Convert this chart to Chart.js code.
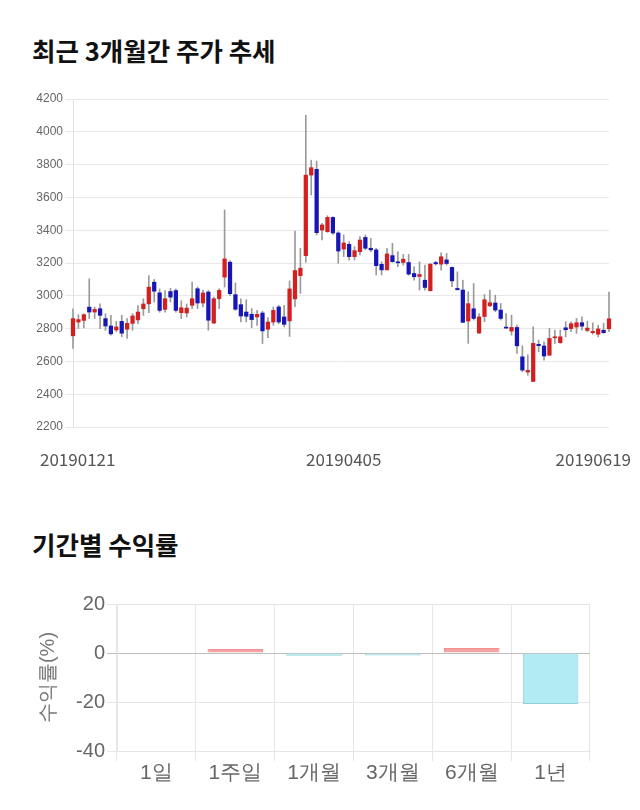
<!DOCTYPE html>
<html>
<head>
<meta charset="utf-8">
<script src="https://cdn.jsdelivr.net/npm/chart.js@4.4.1/dist/chart.umd.min.js"></script>
<style>
  body { margin: 0; background: #fff; width: 640px; height: 810px; position: relative; overflow: hidden;
         font-family: "Noto Sans CJK KR", sans-serif; }
  h2 { position: absolute; left: 32px; margin: 0; font-size: 25.5px; font-weight: 700; color: #111; line-height: 30px; }
  #t1 { top: 35px; }
  #t2 { top: 529px; }
  #w1 { position: absolute; left: 0; top: 80px; width: 640px; height: 400px; }
  #w2 { position: absolute; left: 0; top: 580px; width: 640px; height: 225px; }
</style>
</head>
<body>
<h2 id="t1">최근 3개월간 주가 추세</h2>
<div id="w1"><canvas id="candle"></canvas></div>
<h2 id="t2">기간별 수익률</h2>
<div id="w2"><canvas id="returns"></canvas></div>

<script>
// -----------------------------------------------------------------------
// data : daily candles 20190121 ~ 20190619
// -----------------------------------------------------------------------
var opens = [
    2756, 2840, 2850, 2931, 2901, 2921, 2861, 2816, 2792, 2844,
    2796, 2832, 2853, 2921, 2951, 3083, 3018, 2917, 3026, 3032,
    2897, 2895, 2942, 3043, 2956, 3023, 2834, 2982, 3114, 3205,
    3007, 2946, 2901, 2887, 2871, 2895, 2796, 2840, 2932, 2871,
    2847, 2981, 3123, 3245, 3736, 3771, 3401, 3391, 3478, 3383,
    3285, 3314, 3239, 3269, 3356, 3290, 3280, 3192, 3158, 3245,
    3207, 3203, 3203, 3136, 3118, 3095, 3031, 3203, 3193, 3219,
    3173, 3045, 3035, 2846, 2921, 2773, 2874, 2939, 2956, 2913,
    2807, 2785, 2807, 2628, 2535, 2478, 2704, 2694, 2638, 2744,
    2714, 2805, 2800, 2810, 2836, 2789, 2775, 2766, 2790, 2799
];
var highs = [
    2921, 2885, 2891, 3103, 2931, 2951, 2891, 2881, 2844, 2881,
    2861, 2891, 2941, 2982, 3123, 3100, 3042, 3032, 3046, 3042,
    2970, 2950, 3083, 3053, 3033, 3033, 2992, 3043, 3523, 3215,
    3078, 2982, 2976, 2922, 2911, 2907, 2867, 2932, 2942, 2942,
    3091, 3395, 3290, 4101, 3827, 3821, 3442, 3488, 3482, 3391,
    3371, 3330, 3300, 3361, 3371, 3350, 3290, 3208, 3290, 3320,
    3268, 3252, 3252, 3177, 3207, 3187, 3197, 3211, 3262, 3258,
    3177, 3146, 3095, 3024, 3075, 2892, 3008, 3035, 3004, 2953,
    2892, 2882, 2821, 2695, 2640, 2811, 2730, 2720, 2801, 2791,
    2791, 2842, 2842, 2862, 2872, 2845, 2835, 2821, 2832, 3022
];
var lows = [
    2679, 2800, 2804, 2861, 2861, 2800, 2790, 2760, 2780, 2750,
    2740, 2790, 2830, 2881, 2897, 2962, 2900, 2900, 2962, 2900,
    2862, 2870, 2922, 2922, 2932, 2790, 2830, 2922, 3053, 3003,
    2911, 2841, 2841, 2806, 2820, 2709, 2745, 2820, 2830, 2810,
    2752, 2934, 3015, 3204, 3614, 3371, 3340, 3387, 3375, 3198,
    3239, 3218, 3218, 3249, 3280, 3269, 3127, 3127, 3158, 3204,
    3177, 3187, 3126, 3095, 3035, 3035, 3029, 3187, 3156, 3187,
    3055, 3035, 2838, 2710, 2852, 2771, 2842, 2933, 2903, 2852,
    2801, 2760, 2649, 2537, 2515, 2476, 2659, 2608, 2635, 2710,
    2710, 2750, 2781, 2771, 2791, 2780, 2765, 2750, 2771, 2781
];
var closes = [
    2861, 2855, 2885, 2901, 2917, 2881, 2816, 2768, 2810, 2772,
    2832, 2877, 2901, 2950, 3053, 3028, 2911, 2982, 2992, 2911,
    2927, 2925, 2982, 2956, 3017, 2851, 2982, 3033, 3225, 3013,
    2918, 2877, 2875, 2855, 2887, 2786, 2840, 2911, 2840, 2826,
    3042, 3154, 3168, 3736, 3781, 3385, 3432, 3478, 3383, 3273,
    3322, 3239, 3275, 3340, 3290, 3280, 3184, 3158, 3255, 3208,
    3201, 3223, 3132, 3116, 3130, 3051, 3193, 3195, 3238, 3197,
    3091, 3037, 2838, 2952, 2862, 2871, 2976, 2958, 2913, 2862,
    2803, 2807, 2695, 2547, 2545, 2710, 2696, 2633, 2740, 2750,
    2750, 2793, 2830, 2836, 2815, 2803, 2783, 2798, 2775, 2860
];
var dateLabels = ["20190121", "20190405", "20190619"];
var dateIndex = [0, 50, 99];
var priceTicks = { min: 2200, max: 4200, step: 200 };

// period returns
var periods = ["1일", "1주일", "1개월", "3개월", "6개월", "1년"];
var returns = [0, 1.6, -1.1, -1.0, 2.0, -20.8];

var UP = "#d41f1f", DOWN = "#1616b4";

// -----------------------------------------------------------------------
// candle chart
// -----------------------------------------------------------------------
var bodies = opens.map(function (o, i) { return [Math.min(o, closes[i]), Math.max(o, closes[i])]; });
var bodyColors = opens.map(function (o, i) { return closes[i] >= o ? UP : DOWN; });
var wicks = lows.map(function (l, i) { return [l, highs[i]]; });

// draws the three date labels, kept inside the canvas
var dateLabelPlugin = {
    id: "dateLabelPlugin",
    afterDraw: function (chart) {
        var ctx = chart.ctx, xs = chart.scales.x;
        ctx.save();
        ctx.font = '17px "Noto Sans CJK KR"';
        ctx.fillStyle = "#555";
        ctx.textAlign = "center";
        ctx.textBaseline = "middle";
        dateIndex.forEach(function (idx, k) {
            var w = ctx.measureText(dateLabels[k]).width;
            var x = xs.getPixelForValue(idx);
            x = Math.max(x, 40 + w / 2);
            x = Math.min(x, 631 - w / 2);
            ctx.fillText(dateLabels[k], x, chart.chartArea.bottom + 33);
        });
        ctx.restore();
    }
};

new Chart(document.getElementById("candle"), {
    type: "bar",
    data: {
        labels: opens.map(function (_, i) { return i; }),
        datasets: [
            {
                data: bodies,
                backgroundColor: bodyColors,
                barThickness: 3.6,
                minBarLength: 1,
                grouped: false,
                clip: false,
            },
            {
                data: wicks,
                backgroundColor: "#9a9a9a",
                barThickness: 1,
                grouped: false,
                clip: false,
            },
        ],
    },
    options: {
        responsive: true,
        maintainAspectRatio: false,
        animation: false,
        layout: { padding: { left: 0, right: 31, top: 19, bottom: 53 } },
        plugins: { legend: { display: false }, tooltip: { enabled: false } },
        scales: {
            x: {
                display: false,
                offset: false,
            },
            y: {
                min: priceTicks.min,
                max: priceTicks.max,
                ticks: {
                    stepSize: priceTicks.step,
                    color: "#666",
                    padding: 2,
                    font: { family: "Liberation Sans", size: 12 },
                    callback: function (v) { return String(v); },
                },
                grid: { color: "#e8e8e8", tickLength: 8 },
                border: { display: true, color: "#e2e2e2" },
                afterFit: function (s) { s.width = 73; },
            },
        },
    },
    plugins: [dateLabelPlugin],
});

// -----------------------------------------------------------------------
// returns chart
// -----------------------------------------------------------------------
new Chart(document.getElementById("returns"), {
    type: "bar",
    data: {
        labels: periods,
        datasets: [{
            data: returns,
            backgroundColor: returns.map(function (v) { return v > 0 ? "#f5a3a3" : v < 0 ? "#b2ebf2" : "rgba(0,0,0,0)"; }),
            borderColor: returns.map(function (v) { return v > 0 ? "#f09090" : v < 0 ? "#8fd0da" : "rgba(0,0,0,0)"; }),
            borderWidth: 1,
            categoryPercentage: 0.8,
            barPercentage: 0.88,
        }],
    },
    options: {
        responsive: true,
        maintainAspectRatio: false,
        animation: false,
        layout: { padding: { left: 32, right: 50, top: 24, bottom: 0 } },
        plugins: { legend: { display: false }, tooltip: { enabled: false } },
        scales: {
            x: {
                grid: { color: "#e6e6e6", offset: true, tickLength: 10 },
                border: { display: false },
                ticks: { color: "#666", padding: 0, font: { family: "Liberation Sans", size: 21 } },
                afterFit: function (s) { s.height = 54; },
            },
            y: {
                min: -40,
                max: 20,
                ticks: { stepSize: 20, color: "#666", padding: 2, font: { family: "Liberation Sans", size: 20 } },
                grid: {
                    color: function (c) { return c.tick && c.tick.value === 0 ? "#bdbdbd" : "#e6e6e6"; },
                    tickLength: 10,
                },
                border: { display: true, color: "#e6e6e6" },
                title: {
                    display: true,
                    text: "수익률(%)",
                    color: "#777",
                    font: { family: "Liberation Sans", size: 20 },
                },
                afterFit: function (s) { s.width = 85; },
            },
        },
    },
});
</script>
</body>
</html>
